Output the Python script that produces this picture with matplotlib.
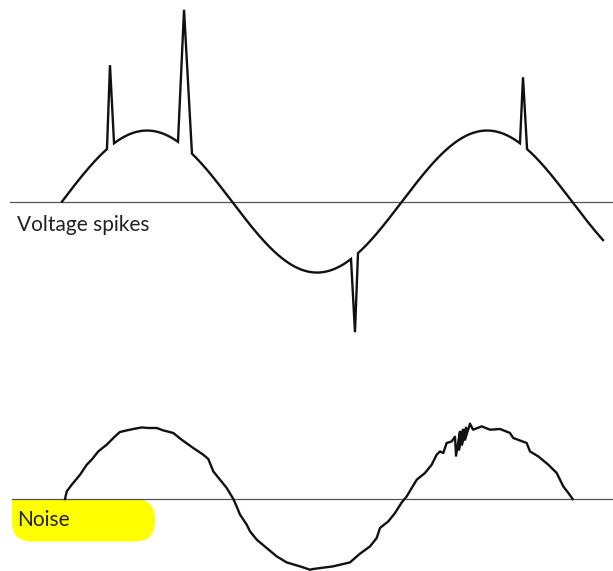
import numpy as np
import matplotlib
matplotlib.use("Agg")
import matplotlib.pyplot as plt
from matplotlib.patches import FancyBboxPatch, Rectangle

# ---------------- data (phase in degrees, voltage in units of nominal peak) ----------------
wave_start_deg = 0.0
wave_end_deg = 572.8
wave_amplitude = 1.0

spike_left_deg = [47.6, 122.8, 306.0, 484.9]
spike_peak_deg = [50.8, 129.2, 310.2, 488.1]
spike_right_deg = [55.1, 137.6, 313.4, 492.4]
spike_peak_volts = [1.92, 2.70, -1.84, 1.75]

noise_phase_deg = [3.2, 5.0, 10.3, 19.1, 26.2, 31.4, 38.4, 47.3, 56.1, 61.4, 68.5, 75.5,
                   84.4, 91.4, 100.3, 107.3, 117.8, 126.7, 139.0, 149.6, 154.9, 160.2,
                   167.3, 174.4, 181.4, 184.9, 188.5, 195.6, 199.1, 206.2, 216.7, 227.3,
                   237.9, 252.0, 262.6, 265.8, 286.9, 304.9, 315.5, 326.1, 333.2, 336.7,
                   345.5, 352.6, 359.7, 365.0, 370.3, 375.6, 384.3, 391.4, 396.7, 400.2,
                   403.7, 407.3, 412.6, 416.1, 417.2, 421.4, 420.4, 424.6, 423.5, 427.8,
                   426.7, 432.0, 435.2, 444.4, 453.2, 463.8, 474.3, 477.8, 492.0, 495.5,
                   504.3, 514.9, 523.8, 530.8, 536.1, 540.7]
noise_volts = [0.0, 0.107, 0.201, 0.342, 0.483, 0.554, 0.670, 0.765, 0.882, 0.944, 0.966, 0.986,
               1.008, 1.0, 1.0, 0.966, 0.930, 0.835, 0.718, 0.624, 0.563, 0.389,
               0.272, 0.155, 0.0, -0.104, -0.221, -0.362, -0.456, -0.573, -0.690, -0.808,
               -0.893, -0.949, -0.996, -0.986, -0.949, -0.893, -0.770, -0.668, -0.549, -0.408,
               -0.315, -0.197, -0.048, 0.037, 0.155, 0.272, 0.366, 0.483, 0.624, 0.670,
               0.648, 0.789, 0.811, 0.877, 0.610, 0.948, 0.694, 0.976, 0.765, 1.004,
               0.835, 1.061, 0.976, 1.023, 0.976, 0.986, 0.930, 0.859, 0.789, 0.670,
               0.600, 0.483, 0.366, 0.177, 0.085, 0.0]

label_top = "Voltage spikes"
label_bottom = "Noise"

# ---------------- layout ----------------
W, H, DPI = 613, 571, 100
fig = plt.figure(figsize=(W / DPI, H / DPI), dpi=DPI)
fig.patch.set_facecolor("white")

XLIM = (-65.65, 583.4)
split = 345 / H
ax_top = fig.add_axes([0, 1 - split, 1, split])
ax_bot = fig.add_axes([0, 0, 1, 1 - split])
ax_top.set_xlim(*XLIM)
ax_top.set_ylim(-2.02, 2.838)
ax_bot.set_xlim(*XLIM)
ax_bot.set_ylim(-1.014, 2.169)
for ax in (ax_top, ax_bot):
    ax.axis("off")

ink = "#111111"
base_col = "#555555"

# ---- top: clean sine with spikes ----
phase = np.linspace(wave_start_deg, wave_end_deg, 1500)
volts = wave_amplitude * np.sin(np.radians(phase))
xs, ys = list(phase), list(volts)
for l, p, r, v in sorted(zip(spike_left_deg, spike_peak_deg, spike_right_deg, spike_peak_volts), reverse=True):
    i0 = int(np.searchsorted(xs, l))
    i1 = int(np.searchsorted(xs, r))
    vl = wave_amplitude * np.sin(np.radians(l))
    vr = wave_amplitude * np.sin(np.radians(r))
    xs[i0:i1] = [l, p, r]
    ys[i0:i1] = [vl, v, vr]
ax_top.plot([-55.1, XLIM[1]], [0, 0], color=base_col, lw=0.9, zorder=2)
ax_top.plot(xs, ys, color=ink, lw=1.7, solid_joinstyle="miter", zorder=3)
ax_top.text(-47.6, -0.41, label_top, fontsize=15, family="Lato", color="#222222",
            ha="left", va="baseline")

# ---- bottom: noisy sine ----
# yellow highlight behind label (figure inches)
hl = FancyBboxPatch((0.12, 0.295), 1.43, 0.425, boxstyle="round,pad=0,rounding_size=0.2",
                    transform=fig.dpi_scale_trans, facecolor="#ffff00", edgecolor="none",
                    zorder=0, clip_on=False)
ax_bot.add_patch(hl)
hl2 = Rectangle((0.12, 0.5), 0.3, 0.22, transform=fig.dpi_scale_trans,
                facecolor="#ffff00", edgecolor="none", zorder=0, clip_on=False)
ax_bot.add_patch(hl2)
ax_bot.plot([-52.9, XLIM[1]], [0, 0], color=base_col, lw=0.9, zorder=2)
ax_bot.plot(noise_phase_deg, noise_volts, color=ink, lw=1.7, zorder=3)
ax_bot.text(-47.6, -0.38, label_bottom, fontsize=15, family="Lato", color="#222222",
            ha="left", va="baseline", zorder=4)

fig.savefig("out.png", dpi=DPI)
